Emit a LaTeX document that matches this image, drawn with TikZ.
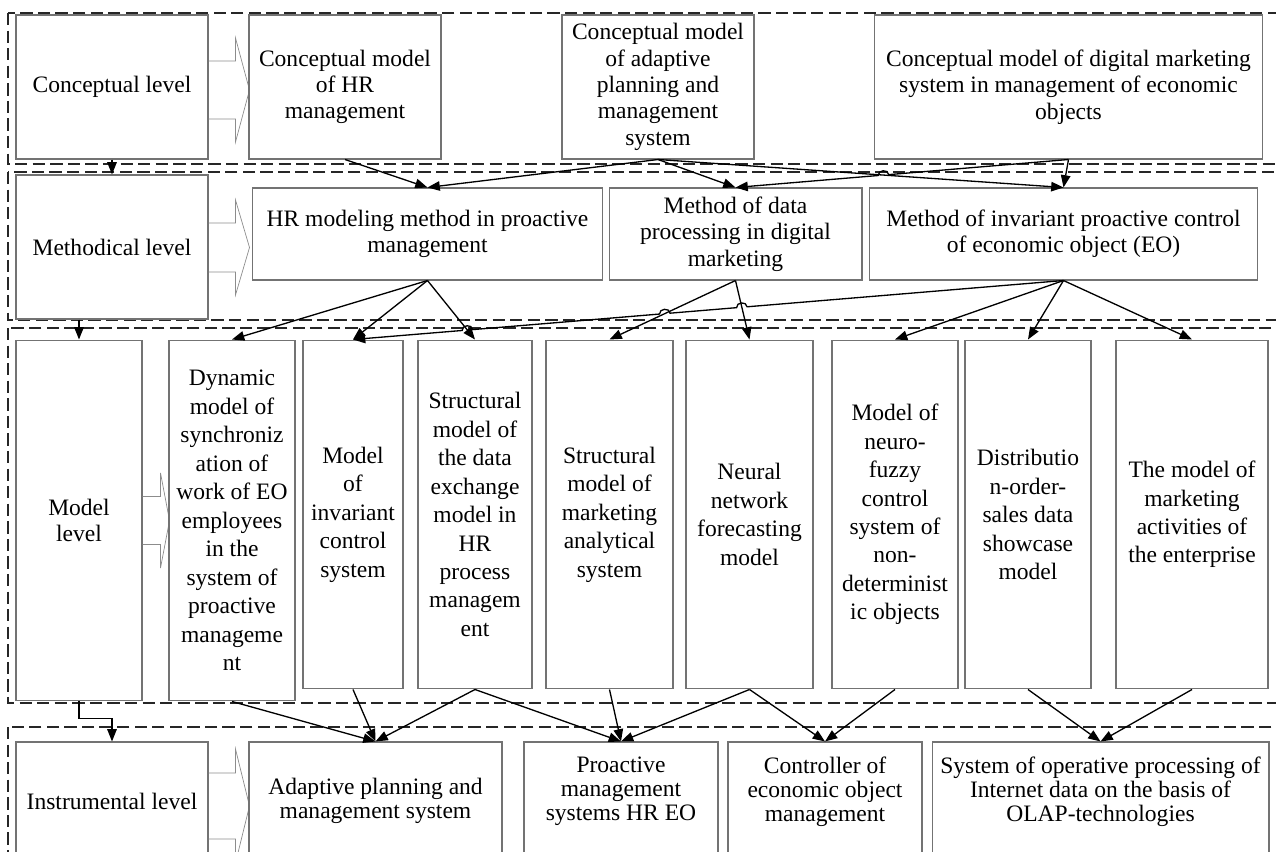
\documentclass[tikz,border=0pt]{standalone}
\usepackage{fontspec}
\setmainfont{Liberation Serif}
\usetikzlibrary{arrows.meta, calc}

\begin{document}
\begin{tikzpicture}[x=0.02cm, y=-0.02cm,
    font=\fontsize{13.4}{15}\selectfont,
    box/.style={draw=black!55, line width=0.6pt, align=center, inner sep=1pt},
    tall/.style={box, font=\fontsize{13.4}{16.2}\selectfont},
    rowfour/.style={align=center, inner sep=1pt, font=\fontsize{13.4}{13.6}\selectfont},
    levelframe/.style={draw=black!85, line width=0.9pt, dash pattern=on 7pt off 3pt},
    hollow/.style={draw=black!45, line width=0.4pt},
    link/.style={draw=black, line width=0.75pt, -{Triangle[length=7pt, width=5.4pt]}},
    hop/.style={bend right=90, looseness=1.4}]
    \useasboundingbox (0,0) rectangle (1276,852);
    \clip (0,0) rectangle (1276,852);

    % dashed frames of the four levels
    \foreach \ya/\yb in {13/164, 172/320, 328/703, 727/900}
        \draw[levelframe] (8,\ya) rectangle (1310,\yb);

    % level boxes
    \node[box, minimum width=3.84cm, minimum height=2.88cm] (conc) at (112,87) {Conceptual level};
    \node[box, minimum width=3.84cm, minimum height=2.88cm] (meth) at (112,247) {Methodical level};
    \node[box, minimum width=2.52cm, minimum height=7.22cm] (model) at (79,520.5) {Model\\level};
    \node[box, minimum width=3.84cm, minimum height=2.36cm] (instr) at (112,801) {Instrumental level};

    % hollow block arrows
    \foreach \lvl/\sl/\hl/\hs/\hh/\dy in {conc/27/14/29/52/3, meth/27/14/24.5/47.5/0.5, model/18/9/24/47.5/0, instr/27/14/33/57/5}
        \draw[hollow] ($(\lvl.east)+(0,\dy-\hs)$) -- ++(\sl,0) -- ++(0,\hs-\hh) -- ++(\hl,\hh)
            -- ++(-\hl,\hh) -- ++(0,\hs-\hh) -- ++(-\sl,0);

    % conceptual level
    \node[box, minimum width=3.84cm, minimum height=2.88cm] (cHR) at (345,87) {Conceptual model\\of HR\\management};
    \node[box, minimum width=3.84cm, minimum height=2.88cm] (cAdapt) at (658,87) {Conceptual model\\of adaptive\\planning and\\management\\system};
    \node[box, minimum width=7.78cm, minimum height=2.88cm] (cDigital) at (1068.5,87) {Conceptual model of digital marketing\\system in management of economic\\objects};

    % methodical level
    \node[box, minimum width=7.02cm, minimum height=1.84cm] (mHR) at (427.5,234) {HR modeling method in proactive\\management};
    \node[box, minimum width=5.06cm, minimum height=1.84cm] (mData) at (735.5,234) {Method of data\\processing in digital\\marketing};
    \node[box, minimum width=7.78cm, minimum height=1.84cm] (mInv) at (1063.5,234) {Method of invariant proactive control\\of economic object (EO)};

    % model level
    \node[tall, minimum width=2.52cm, minimum height=7.22cm] (dSync) at (232,520.5) {Dynamic\\model of\\synchroniz\\ation of\\work of EO\\employees\\in the\\system of\\proactive\\manageme\\nt};
    \node[tall, minimum width=2.0cm, minimum height=6.98cm] (dInv) at (353,514.5) {Model\\of\\invariant\\control\\system};
    \node[tall, minimum width=2.28cm, minimum height=6.98cm] (dExch) at (475,514.5) {Structural\\model of\\the data\\exchange\\model in\\HR\\process\\managem\\ent};
    \node[tall, minimum width=2.54cm, minimum height=6.98cm] (dMark) at (609.5,514.5) {Structural\\model of\\marketing\\analytical\\system};
    \node[tall, minimum width=2.54cm, minimum height=6.98cm] (dNeur) at (749.5,514.5) {Neural\\network\\forecasting\\model};
    \node[tall, minimum width=2.52cm, minimum height=6.98cm] (dFuzzy) at (895,514.5) {Model of\\neuro-\\fuzzy\\control\\system of\\non-\\determinist\\ic objects};
    \node[tall, minimum width=2.52cm, minimum height=6.98cm] (dShow) at (1028,514.5) {Distributio\\n-order-\\sales data\\showcase\\model};
    \node[tall, minimum width=3.04cm, minimum height=6.98cm] (dAct) at (1192,514.5) {The model of\\marketing\\activities of\\the enterprise};

    % instrumental level
    \node[box, minimum width=5.06cm, minimum height=2.36cm, font=\fontsize{13.4}{13.6}\selectfont] (iAdapt) at (375.5,801) {Adaptive planning and\\management system};
    \node[box, minimum width=3.88cm, minimum height=2.36cm] (iPro) at (621,801) {};
    \node[box, minimum width=3.88cm, minimum height=2.36cm] (iCtrl) at (825,801) {};
    \node[box, minimum width=6.74cm, minimum height=2.36cm] (iOlap) at (1100.5,801) {};
    \node[rowfour] (iProText) at ($(iPro.north)+(0,50)$) {Proactive\\management\\systems HR EO};
    \node[rowfour] (iCtrlText) at ($(iCtrl.north)+(0,50)$) {Controller of\\economic object\\management};
    \node[rowfour] (iOlapText) at ($(iOlap.north)+(0,50)$) {System of operative processing of\\Internet data on the basis of\\OLAP-technologies};

    % arrows between levels
    \draw[link] (conc.south) -- (meth.north);
    \draw[link] (meth.south -| model.north) -- (model.north);
    \draw[link] (model.south) -- ++(0,17) -| (instr.north);

    % conceptual -> methodical
    \draw[link] (cHR.south) -- (mHR.north);
    \foreach \t in {mHR, mData, mInv}
        \draw[link] (cAdapt.south) -- (\t.north);
    \draw[link] (cDigital.south) -- (mInv.north);
    \coordinate (x1) at (intersection of cDigital.south--mData.north and cAdapt.south--mInv.north);
    \draw[link] (cDigital.south) -- ($(x1)!3pt!(cDigital.south)$) to[hop] ($(x1)!3pt!(mData.north)$) -- (mData.north);

    % methodical -> model
    \foreach \t in {dSync, dInv, dExch}
        \draw[link] (mHR.south) -- (\t.north);
    \foreach \t in {dMark, dNeur}
        \draw[link] (mData.south) -- (\t.north);
    \foreach \t in {dFuzzy, dShow, dAct}
        \draw[link] (mInv.south) -- (\t.north);
    \coordinate (h1) at (intersection of mInv.south--dInv.north and mData.south--dNeur.north);
    \coordinate (h2) at (intersection of mInv.south--dInv.north and mData.south--dMark.north);
    \coordinate (h3) at (intersection of mInv.south--dInv.north and mHR.south--dExch.north);
    \draw[link] (mInv.south) -- ($(h1)!3pt!(mInv.south)$) to[hop] ($(h1)!3pt!(dInv.north)$)
        -- ($(h2)!3pt!(mInv.south)$) to[hop] ($(h2)!3pt!(dInv.north)$)
        -- ($(h3)!3pt!(mInv.south)$) to[hop] ($(h3)!3pt!(dInv.north)$) -- (dInv.north);

    % model -> instrumental
    \foreach \s in {dSync, dInv, dExch}
        \draw[link] (\s.south) -- (iAdapt.north);
    \foreach \s in {dExch, dMark, dNeur}
        \draw[link] (\s.south) -- (iPro.north);
    \foreach \s in {dNeur, dFuzzy}
        \draw[link] (\s.south) -- (iCtrl.north);
    \foreach \s in {dShow, dAct}
        \draw[link] (\s.south) -- (iOlap.north);
\end{tikzpicture}
\end{document}
